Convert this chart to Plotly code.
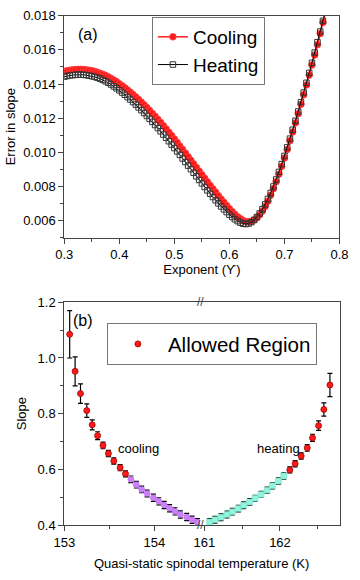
import plotly.graph_objects as go

# (a) error in slope vs exponent
exponent = [0.300, 0.305, 0.310, 0.315, 0.320, 0.325, 0.330, 0.335, 0.340, 0.345,
            0.350, 0.355, 0.360, 0.365, 0.370, 0.375, 0.380, 0.385, 0.390, 0.395,
            0.400, 0.405, 0.410, 0.415, 0.420, 0.425, 0.430, 0.435, 0.440, 0.445,
            0.450, 0.455, 0.460, 0.465, 0.470, 0.475, 0.480, 0.485, 0.490, 0.495,
            0.500, 0.505, 0.510, 0.515, 0.520, 0.525, 0.530, 0.535, 0.540, 0.545,
            0.550, 0.555, 0.560, 0.565, 0.570, 0.575, 0.580, 0.585, 0.590, 0.595,
            0.600, 0.605, 0.610, 0.615, 0.620, 0.625, 0.630, 0.635, 0.640, 0.645,
            0.650, 0.655, 0.660, 0.665, 0.670, 0.675, 0.680, 0.685, 0.690, 0.695,
            0.700, 0.705, 0.710, 0.715, 0.720, 0.725, 0.730, 0.735, 0.740, 0.745,
            0.750, 0.755, 0.760, 0.765, 0.770, 0.775]
err_cooling = [0.01474, 0.01478, 0.01481, 0.01483, 0.01485, 0.01486, 0.01486, 0.01485, 0.01483, 0.01481,
               0.01478, 0.01474, 0.01469, 0.01463, 0.01457, 0.01450, 0.01442, 0.01433, 0.01423, 0.01413,
               0.01402, 0.01390, 0.01378, 0.01365, 0.01352, 0.01338, 0.01324, 0.01309, 0.01294, 0.01278,
               0.01262, 0.01245, 0.01228, 0.01211, 0.01193, 0.01175, 0.01156, 0.01137, 0.01118, 0.01098,
               0.01078, 0.01058, 0.01037, 0.01016, 0.00995, 0.00974, 0.00953, 0.00932, 0.00911, 0.00890,
               0.00869, 0.00848, 0.00827, 0.00806, 0.00786, 0.00766, 0.00746, 0.00726, 0.00707, 0.00688,
               0.00670, 0.00653, 0.00637, 0.00623, 0.00611, 0.00601, 0.00595, 0.00593, 0.00596, 0.00604,
               0.00617, 0.00634, 0.00656, 0.00683, 0.00714, 0.00749, 0.00787, 0.00828, 0.00872, 0.00918,
               0.00966, 0.01016, 0.01067, 0.01119, 0.01172, 0.01226, 0.01281, 0.01337, 0.01394, 0.01452,
               0.01511, 0.01570, 0.01630, 0.01695, 0.01760, 0.01825]
err_heating = [0.01443, 0.01447, 0.01450, 0.01452, 0.01454, 0.01455, 0.01455, 0.01454, 0.01452, 0.01449,
               0.01446, 0.01442, 0.01437, 0.01431, 0.01424, 0.01416, 0.01407, 0.01397, 0.01386, 0.01375,
               0.01363, 0.01350, 0.01337, 0.01323, 0.01309, 0.01294, 0.01279, 0.01263, 0.01247, 0.01230,
               0.01213, 0.01196, 0.01178, 0.01160, 0.01142, 0.01123, 0.01104, 0.01085, 0.01065, 0.01045,
               0.01025, 0.01005, 0.00985, 0.00964, 0.00943, 0.00922, 0.00901, 0.00880, 0.00859, 0.00838,
               0.00818, 0.00797, 0.00777, 0.00757, 0.00738, 0.00719, 0.00701, 0.00683, 0.00666, 0.00650,
               0.00635, 0.00621, 0.00608, 0.00597, 0.00588, 0.00582, 0.00580, 0.00583, 0.00591, 0.00604,
               0.00621, 0.00642, 0.00667, 0.00695, 0.00727, 0.00762, 0.00800, 0.00841, 0.00885, 0.00931,
               0.00979, 0.01029, 0.01080, 0.01132, 0.01185, 0.01239, 0.01294, 0.01350, 0.01407, 0.01465,
               0.01524, 0.01584, 0.01645, 0.01707, 0.01770, 0.01834]

# (b) slope vs quasi-static spinodal temperature
cool_temp = [153.06, 153.12, 153.18, 153.25, 153.31, 153.37, 153.43, 153.49, 153.55, 153.62,
             153.68, 153.74, 153.80, 153.86, 153.92, 153.99, 154.05, 154.11, 154.17, 154.23,
             154.29, 154.36, 154.42, 154.48]
cool_slope = [1.085, 0.952, 0.872, 0.811, 0.760, 0.721, 0.686, 0.657, 0.630, 0.606,
              0.584, 0.564, 0.545, 0.528, 0.513, 0.498, 0.485, 0.472, 0.460, 0.449,
              0.438, 0.429, 0.419, 0.410]
cool_err = [0.085, 0.052, 0.035, 0.024, 0.018, 0.014, 0.012, 0.011, 0.011, 0.011,
            0.011, 0.012, 0.012, 0.012, 0.012, 0.013, 0.013, 0.013, 0.013, 0.013,
            0.013, 0.013, 0.013, 0.013]
cool_allowed = 11  # first points are in the allowed region

heat_temp = [161.07, 161.14, 161.22, 161.30, 161.37, 161.45, 161.52, 161.60, 161.67, 161.75,
             161.83, 161.90, 161.98, 162.05, 162.13, 162.20, 162.28, 162.36, 162.43, 162.51,
             162.58, 162.66]
heat_slope = [0.411, 0.419, 0.428, 0.438, 0.448, 0.459, 0.471, 0.483, 0.496, 0.510,
              0.525, 0.541, 0.558, 0.576, 0.598, 0.620, 0.648, 0.677, 0.713, 0.757,
              0.815, 0.903]
heat_err = [0.012, 0.012, 0.012, 0.012, 0.012, 0.012, 0.012, 0.012, 0.011, 0.011,
            0.011, 0.011, 0.011, 0.011, 0.011, 0.011, 0.011, 0.012, 0.013, 0.017,
            0.024, 0.042]
heat_allowed = 8  # last points are in the allowed region

FONT = "Arial, Liberation Sans, sans-serif"
AX = "#444"
RED = "#ff1a1a"
PURPLE = "#cc80ff"
CYAN = "#8ff5dc"

fig = go.Figure()

# top panel
fig.add_trace(go.Scatter(x=exponent, y=err_cooling, name="Cooling", mode="lines+markers",
                         line=dict(color=RED, width=1.5),
                         marker=dict(symbol="circle", size=6.5, color=RED,
                                     line=dict(color="#ff4040", width=1)),
                         xaxis="x", yaxis="y", legend="legend"))
fig.add_trace(go.Scatter(x=exponent, y=err_heating, name="Heating", mode="lines+markers",
                         line=dict(color="black", width=1),
                         marker=dict(symbol="square-open", size=5.5, color="#333",
                                     line=dict(width=1)),
                         xaxis="x", yaxis="y", legend="legend"))

ebar = dict(type="data", color="black", thickness=1.2, width=2.5)
red_marker = dict(symbol="circle", size=6, color=RED, line=dict(color="#a00000", width=0.8))

# bottom panel, cooling side (left of the break)
fig.add_trace(go.Scatter(x=cool_temp[cool_allowed:], y=cool_slope[cool_allowed:], mode="markers",
                         error_y=dict(array=cool_err[cool_allowed:], **ebar),
                         marker=dict(symbol="circle", size=6, color=PURPLE,
                                     line=dict(color="#b060e0", width=0.5)),
                         showlegend=False, xaxis="x2", yaxis="y2"))
fig.add_trace(go.Scatter(x=cool_temp[:cool_allowed], y=cool_slope[:cool_allowed], mode="markers",
                         name="Allowed Region", legendgroup="allowed",
                         error_y=dict(array=cool_err[:cool_allowed], **ebar),
                         marker=red_marker, xaxis="x2", yaxis="y2", legend="legend2"))

# bottom panel, heating side (right of the break)
n_blue = len(heat_temp) - heat_allowed
fig.add_trace(go.Scatter(x=heat_temp[:n_blue], y=heat_slope[:n_blue], mode="markers",
                         error_y=dict(array=heat_err[:n_blue], **ebar),
                         marker=dict(symbol="square", size=6, color=CYAN,
                                     line=dict(color="#70d8c0", width=0.5)),
                         showlegend=False, xaxis="x3", yaxis="y3"))
fig.add_trace(go.Scatter(x=heat_temp[n_blue:], y=heat_slope[n_blue:], mode="markers",
                         name="Allowed Region", legendgroup="allowed", showlegend=False,
                         error_y=dict(array=heat_err[n_blue:], **ebar),
                         marker=red_marker, xaxis="x3", yaxis="y3"))

axis_common = dict(showline=True, linecolor=AX, linewidth=1, mirror=True, automargin=False,
                   ticks="outside", ticklen=5, tickcolor=AX, showgrid=False, zeroline=False,
                   tickfont=dict(size=13, color="black"))
minor = dict(ticks="outside", ticklen=3, tickcolor=AX, showgrid=False)

fig.update_layout(
    width=360, height=580,
    margin=dict(l=0, r=0, t=0, b=0, autoexpand=False),
    paper_bgcolor="white", plot_bgcolor="white",
    font=dict(family=FONT, color="black", size=13),
    xaxis=dict(domain=[0.1786, 0.943], range=[0.3, 0.8], dtick=0.1, tickformat=".1f",
               anchor="y", minor=dict(dtick=0.05, **minor),
               title=dict(text="Exponent (ϒ)", font=dict(size=13), standoff=3),
               **axis_common),
    yaxis=dict(domain=[0.5902, 0.9729], range=[0.005, 0.018], tick0=0.006, dtick=0.002,
               tickformat=".3f", anchor="x", minor=dict(dtick=0.001, **minor),
               title=dict(text="Error in slope", font=dict(size=13), standoff=4),
               **axis_common),
    xaxis2=dict(domain=[0.1786, 0.5556], range=[153, 154.508], tickvals=[153, 154],
                anchor="y2", minor=dict(tickvals=[153.5], **minor), **axis_common),
    xaxis3=dict(domain=[0.5556, 0.9444], range=[160.943, 162.793], tickvals=[161, 162],
                anchor="y3", minor=dict(tickvals=[161.5, 162.5], **minor), **axis_common),
    yaxis2=dict(domain=[0.0948, 0.4788], range=[0.4, 1.2], dtick=0.2, tickformat=".1f",
                anchor="x2", minor=dict(dtick=0.1, **minor),
                title=dict(text="Slope", font=dict(size=13), standoff=8),
                **{**axis_common, "mirror": False}),
    yaxis3=dict(domain=[0.0948, 0.4788], range=[0.4, 1.2], anchor="x3", side="right",
                showline=True, linecolor=AX, linewidth=1, ticks="", showticklabels=False,
                showgrid=False, zeroline=False, automargin=False),
    legend=dict(x=0.422, y=0.9707, xanchor="left", yanchor="top",
                bgcolor="white", bordercolor="#777", borderwidth=1,
                font=dict(size=19, family=FONT), tracegroupgap=0),
    legend2=dict(x=0.297, y=0.443, xanchor="left", yanchor="top",
                 bgcolor="white", bordercolor="#777", borderwidth=1,
                 font=dict(size=20.5, family=FONT), itemwidth=50),
    annotations=[
        dict(text="(a)", x=0.211, y=0.94, xref="paper", yref="paper", xanchor="left",
             yanchor="middle", showarrow=False, font=dict(size=16)),
        dict(text="(b)", x=0.197, y=1 - 320 / 580, xref="paper", yref="paper", xanchor="left",
             yanchor="middle", showarrow=False, font=dict(size=16)),
        dict(text="cooling", x=0.322, y=1 - 448 / 580, xref="paper", yref="paper",
             xanchor="left", yanchor="middle", showarrow=False, font=dict(size=13)),
        dict(text="heating", x=0.708, y=1 - 448 / 580, xref="paper", yref="paper",
             xanchor="left", yanchor="middle", showarrow=False, font=dict(size=13)),
        dict(text="Quasi-static spinodal temperature (K)", x=0.56, y=1 - 563 / 580,
             xref="paper", yref="paper", xanchor="center", yanchor="middle",
             showarrow=False, font=dict(size=13)),
        dict(text="//", x=0.5556, y=0.4788, xref="paper", yref="paper", xanchor="center",
             yanchor="middle", showarrow=False, font=dict(size=12, color=AX)),
        dict(text="//", x=0.5556, y=0.0948, xref="paper", yref="paper", xanchor="center",
             yanchor="middle", showarrow=False, font=dict(size=12, color=AX)),
    ],
)

# the page's default body margin would shift the chart inside the 360x580 window
fig.write_html("out.html", config={"displayModeBar": False},
               post_script="document.body.style.margin='0';document.body.style.overflow='hidden';")
